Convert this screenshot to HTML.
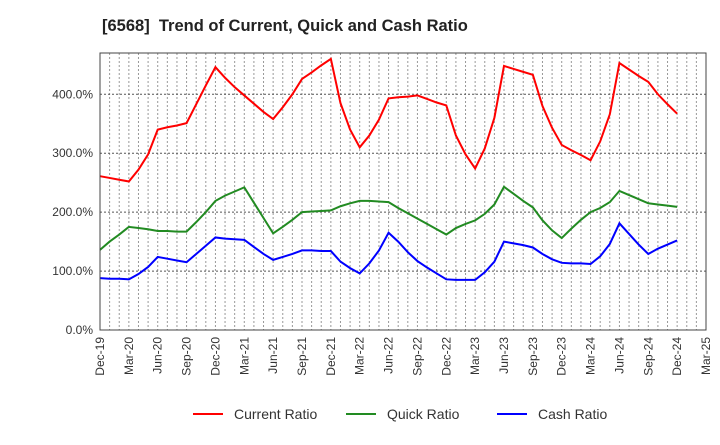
<!DOCTYPE html>
<html><head><meta charset="utf-8"><style>
body{margin:0;background:#fff;font-family:"Liberation Sans",sans-serif}
svg text{font-family:"Liberation Sans",sans-serif}
</style></head><body>
<svg id="chart" width="720" height="440" xmlns="http://www.w3.org/2000/svg">
<text x="102" y="31" font-size="16.5" font-weight="bold" fill="#222" style="white-space:pre">[6568]  Trend of Current, Quick and Cash Ratio</text>
<g id="grid"></g><g id="series"></g><g id="axes"></g><g id="legend"></g>
</svg>
<script>
const xTickLabels=["Dec-19","Mar-20","Jun-20","Sep-20","Dec-20","Mar-21","Jun-21","Sep-21","Dec-21","Mar-22","Jun-22","Sep-22","Dec-22","Mar-23","Jun-23","Sep-23","Dec-23","Mar-24","Jun-24","Sep-24","Dec-24","Mar-25"];
const yTicks=[0,100,200,300,400];
const currentRatio=[261,258,255,252,272,298,340,344,347,351,383,415,446,428,412,398,384,370,358,378,400,426,437,449,460,385,340,310,330,357,393,395,396,398,392,386,381,330,298,274,308,360,448,443,438,433,380,343,314,305,297,288,320,366,453,442,431,421,400,383,367];
const quickRatio=[136,150,162,175,173,171,168,168,167,167,183,200,219,228,235,242,216,190,164,175,187,200,201,202,203,210,215,219,219,218,217,207,198,189,180,171,162,173,180,186,197,213,243,231,219,208,186,169,156,172,187,200,207,217,236,229,222,215,213,211,209];
const cashRatio=[88,87,87,86,95,107,124,121,118,115,129,143,157,155,154,153,141,129,119,124,129,135,135,134,134,116,105,96,113,135,165,150,132,117,106,96,86,85,85,85,98,116,150,147,144,140,129,120,114,113,113,112,125,146,181,163,145,129,138,145,152];
const L=100,R=706,T=53,B=330,yMax=470,nMonths=63;
const xs=m=>L+(R-L)*m/nMonths, ys=v=>B-(B-T)*v/yMax;
const NS="http://www.w3.org/2000/svg";
function mk(tag,attrs,parent){const e=document.createElementNS(NS,tag);for(const k in attrs)e.setAttribute(k,attrs[k]);parent.appendChild(e);return e;}
const grid=document.getElementById('grid'),axes=document.getElementById('axes'),series=document.getElementById('series'),legend=document.getElementById('legend');
for(let m=1;m<nMonths;m++){const l=mk('line',{x1:xs(m),x2:xs(m),y1:T,y2:B,stroke:'#999','stroke-width':1,'stroke-dasharray':'2,2'},grid);

}
yTicks.forEach(v=>{if(v>0){const l=mk('line',{x1:L,x2:R,y1:ys(v),y2:ys(v),stroke:'#555','stroke-width':1,'stroke-dasharray':'2,2'},grid);

}
const t=mk('text',{x:L-7,y:ys(v)+4,'text-anchor':'end','font-size':12,fill:'#333'},axes);t.textContent=v.toFixed(1)+'%';

});
xTickLabels.forEach((s,i)=>{const x=xs(i*3);const t=mk('text',{transform:`translate(${x+4},${B+7}) rotate(-90)`,'text-anchor':'end','font-size':12,fill:'#333'},axes);t.textContent=s;

});
const frame=mk('rect',{x:L,y:T,width:R-L,height:B-T,fill:'none',stroke:'#444','stroke-width':1},axes);


const defs=[["current-ratio",currentRatio,"#ff0000","Current Ratio",193],["quick-ratio",quickRatio,"#228b22","Quick Ratio",346],["cash-ratio",cashRatio,"#0000ff","Cash Ratio",497]];
defs.forEach(([n,d,c,lab,lx])=>{const p=mk('polyline',{points:d.map((v,i)=>xs(i)+','+ys(v)).join(' '),fill:'none',stroke:c,'stroke-width':2},series);


const g=mk('g',{},legend);


mk('line',{x1:lx,x2:lx+30,y1:414,y2:414,stroke:c,'stroke-width':2},g);
const t=mk('text',{x:lx+41,y:419,'font-size':14,fill:'#333'},g);t.textContent=lab;});
</script>
</body></html>
